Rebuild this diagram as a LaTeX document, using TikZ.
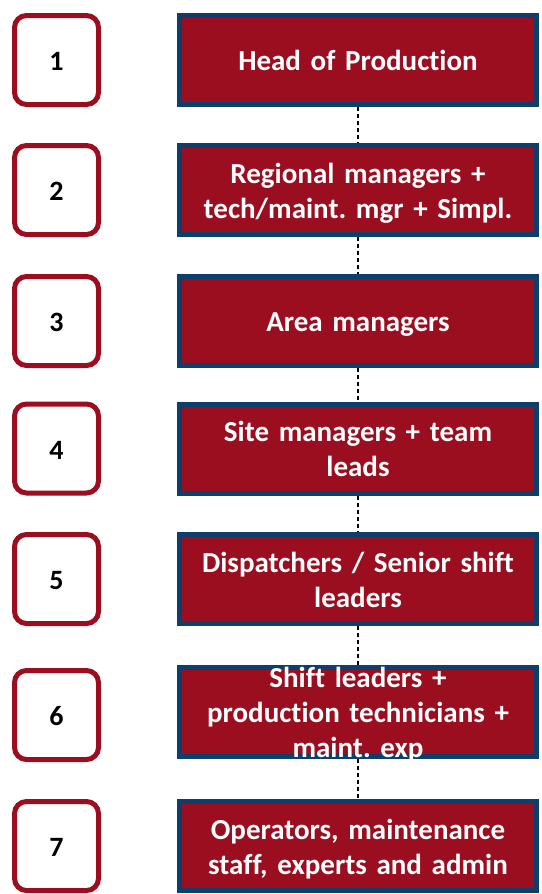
\documentclass[tikz,border=0pt]{standalone}
\usepackage{fontspec}
\setmainfont{Carlito}[Ligatures=NoCommon]
\frenchspacing
\usetikzlibrary{positioning}

\definecolor{levelred}{RGB}{155,14,32}
\definecolor{levelblue}{RGB}{14,62,108}

% strut that puts the text block where PowerPoint puts it
\newcommand{\levelstrut}{\rule[-6.5pt]{0pt}{34.4pt}}

\tikzset{
  levelnum/.style={draw=levelred, line width=5pt, rounded corners=12pt, fill=white,
    minimum width=84pt, minimum height=89pt, inner sep=0pt,
    font=\fontsize{28}{35}\selectfont\bfseries,
    execute at begin node=\levelstrut},
  levelrole/.style={draw=levelblue, fill=levelred, line width=5pt,
    minimum width=357pt, minimum height=89pt, inner sep=0pt,
    text width=350pt, align=center, text=white,
    font=\fontsize{29}{35}\selectfont\bfseries,
    execute at begin node=\levelstrut, execute at end node=\levelstrut},
  link/.style={dash pattern=on 4pt off 3pt, line width=1.2pt}
}

\begin{document}
\begin{tikzpicture}[x=1pt, y=-1pt]
  \useasboundingbox (0,0) rectangle (541,894);

  \node[levelrole] (role1) at (358,60) {Head of Production};
  \node[levelrole] (role2) at (358,190) {Regional managers +\\tech/maint. mgr + Simpl.};
  \node[levelrole] (role3) at (358,321) {Area managers};
  \node[levelrole] (role4) at (358,448.5) {Site managers + team\\leads};
  \node[levelrole] (role5) at (358,579) {Dispatchers / Senior shift\\leaders};
  \node[levelrole, text height=0pt, text depth=48.6pt] (role6) at (358,712)
    {Shift leaders +\\production technicians +\\maint. exp};
  \node[levelrole] (role7) at (358,846) {Operators, maintenance\\staff, experts and admin};

  \node[levelnum, left=76pt of role1] (num1) {1};
  \node[levelnum, left=76pt of role2] (num2) {2};
  \node[levelnum, left=76pt of role3] (num3) {3};
  \node[levelnum, left=76pt of role4] (num4) {4};
  \node[levelnum, left=76pt of role5] (num5) {5};
  \node[levelnum, left=76pt of role6, yshift=-3pt] (num6) {6};
  \node[levelnum, left=76pt of role7] (num7) {7};

  \draw[link]
  (role1) -- (role2)
  (role2) -- (role3)
  (role3) -- (role4)
  (role4) -- (role5)
  (role5) -- (role6)
  (role6) -- (role7);
\end{tikzpicture}
\end{document}
